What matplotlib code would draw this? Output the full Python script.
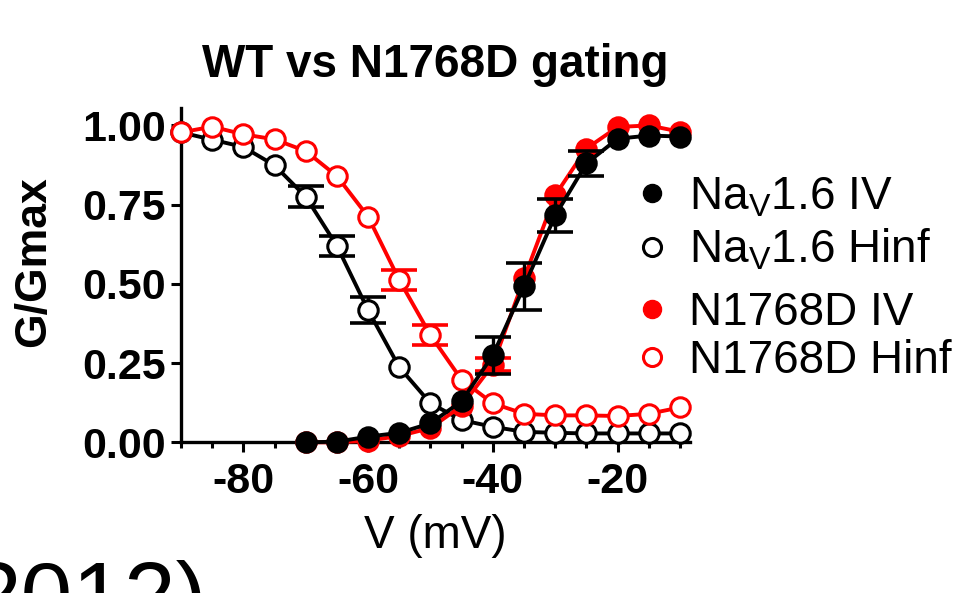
import matplotlib
matplotlib.use("Agg")
import numpy as np
import matplotlib.pyplot as plt
from matplotlib.lines import Line2D
from matplotlib.ticker import MultipleLocator

plt.rcParams["font.family"] = ["Liberation Sans", "DejaVu Sans"]
plt.rcParams["mathtext.fontset"] = "custom"
plt.rcParams["mathtext.rm"] = "Liberation Sans"
plt.rcParams["axes.unicode_minus"] = False

# steady-state inactivation (Hinf), -90 .. -10 mV
V_HINF = [-90, -85, -80, -75, -70, -65, -60, -55, -50, -45, -40, -35, -30, -25, -20, -15, -10]
WT_HINF = [0.978, 0.955, 0.932, 0.874, 0.775, 0.620, 0.417, 0.237, 0.123, 0.070, 0.049,
           0.033, 0.030, 0.028, 0.028, 0.028, 0.028]
WT_HINF_ERR = [0.0, 0.0, 0.0, 0.0, 0.033, 0.032, 0.040, 0.0, 0.0, 0.0, 0.0,
               0.0, 0.0, 0.0, 0.0, 0.0, 0.0]
MUT_HINF = [0.978, 0.996, 0.972, 0.956, 0.919, 0.840, 0.712, 0.512, 0.338, 0.197, 0.123,
            0.090, 0.085, 0.085, 0.083, 0.090, 0.110]
MUT_HINF_ERR = [0.0, 0.0, 0.0, 0.0, 0.0, 0.0, 0.0, 0.032, 0.032, 0.0, 0.0,
                0.0, 0.0, 0.0, 0.0, 0.0, 0.0]

# activation (IV), -70 .. -10 mV
V_IV = [-70, -65, -60, -55, -50, -45, -40, -35, -30, -25, -20, -15, -10]
WT_IV = [0.000, 0.002, 0.018, 0.030, 0.060, 0.130, 0.275, 0.492, 0.716, 0.880, 0.958, 0.968, 0.965]
WT_IV_ERR = [0.0, 0.0, 0.0, 0.0, 0.0, 0.0, 0.058, 0.075, 0.053, 0.040, 0.0, 0.0, 0.0]
MUT_IV = [0.000, 0.000, 0.005, 0.020, 0.045, 0.115, 0.245, 0.517, 0.780, 0.927, 0.995, 1.000, 0.980]
MUT_IV_ERR = [0.0, 0.0, 0.0, 0.0, 0.0, 0.0, 0.020, 0.0, 0.0, 0.0, 0.0, 0.0, 0.0]

LABELS = [r"Na$_\mathrm{V}$1.6 IV", r"Na$_\mathrm{V}$1.6 Hinf", "N1768D IV", "N1768D Hinf"]
RED = "#ff0000"

fig = plt.figure(figsize=(9.61, 5.93), dpi=100)
ax = fig.add_axes([0.1883, 0.2541, 0.5297, 0.5638])

series = [
    (V_HINF, WT_HINF, WT_HINF_ERR, "black", "white"),
    (V_HINF, MUT_HINF, MUT_HINF_ERR, RED, "white"),
    (V_IV, MUT_IV, MUT_IV_ERR, RED, RED),
    (V_IV, WT_IV, WT_IV_ERR, "black", "black"),
]
for z, (v, g, err, col, face) in enumerate(series):
    v, g, err = np.array(v), np.array(g), np.array(err)
    has = err > 0
    ax.errorbar(v[has], g[has], yerr=err[has], fmt="none", ecolor=col, elinewidth=2.4,
                capsize=13, capthick=2.6, zorder=3 + 2 * z, clip_on=False)
    ax.plot(v, g, color=col, lw=2.8, marker="o", ms=14, mew=2.2, mfc=face, mec=col,
            zorder=4 + 2 * z, clip_on=False)

ax.set_xlim(-90, -8.4)
ax.set_ylim(0, 1.055)
ax.set_xticks([-80, -60, -40, -20])
ax.xaxis.set_minor_locator(MultipleLocator(5))
ax.set_yticks([0, 0.25, 0.5, 0.75, 1.0])
ax.set_yticklabels(["0.00", "0.25", "0.50", "0.75", "1.00"])
for side in ("top", "right"):
    ax.spines[side].set_visible(False)
for side in ("left", "bottom"):
    ax.spines[side].set_linewidth(2.4)
ax.tick_params(which="major", length=7.5, width=2.2, labelsize=31, direction="out")
ax.tick_params(which="minor", length=4, width=2.2, direction="out")
ax.tick_params(axis="x", pad=7)
ax.tick_params(axis="y", pad=3.5)
for lbl in ax.get_xticklabels() + ax.get_yticklabels():
    lbl.set_fontweight("bold")

ax.set_title("WT vs N1768D gating", fontsize=33, fontweight="bold", pad=22)
ax.set_xlabel("V (mV)", fontsize=33, labelpad=8)
fig.text(34 / 961, 1 - 262 / 593, "G/Gmax", rotation=90, fontsize=32,
         fontweight="bold", ha="center", va="center")

handles = [
    Line2D([], [], ls="none", marker="o", ms=13, color="black", mfc="black"),
    Line2D([], [], ls="none", marker="o", ms=13, mew=2.2, color="black", mfc="white"),
    Line2D([], [], ls="none", marker="o", ms=13, color=RED, mfc=RED),
    Line2D([], [], ls="none", marker="o", ms=13, mew=2.2, color=RED, mfc="white"),
]
leg_style = dict(frameon=False, fontsize=33, handlelength=1.0, handletextpad=0.3,
                 borderpad=0, borderaxespad=0, loc="center left")
fig.legend(handles[:2], LABELS[:2], bbox_to_anchor=(629 / 961, 1 - 224 / 593),
           labelspacing=0.18, **leg_style)
fig.legend(handles[2:], LABELS[2:], bbox_to_anchor=(629 / 961, 1 - 337 / 593),
           labelspacing=0.08, **leg_style)

fig.text(207 / 961, 1 - 627 / 593, "2012)", fontsize=67, ha="right", va="baseline")

fig.savefig("out.png", dpi=100)
